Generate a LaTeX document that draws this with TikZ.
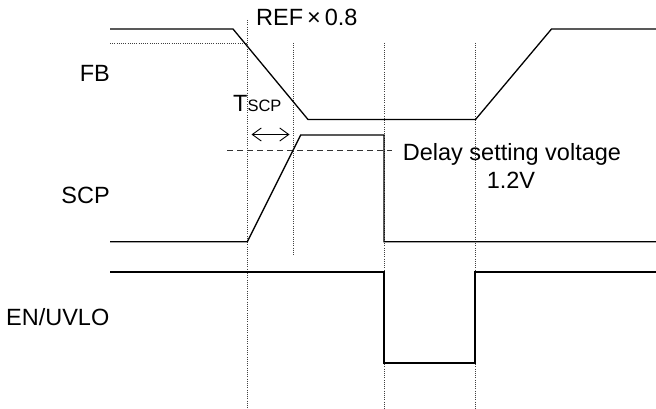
\documentclass[tikz,border=0pt]{standalone}
\usepackage{fontspec}
\setmainfont{Liberation Sans}
\usetikzlibrary{arrows.meta}
\begin{document}
\begin{tikzpicture}[x=1pt,y=-1pt,
  wave/.style={line width=1.3pt,line join=miter},
  guide/.style={line width=0.8pt,dash pattern=on 1pt off 1.2pt,black!75},
  thresh/.style={line width=0.9pt,dash pattern=on 6pt off 4pt,black!80},
  lbl/.style={inner sep=0pt,font=\fontsize{23.5}{26}\selectfont},
  dimarrow/.style={line width=0.9pt,{Straight Barb[length=9pt,width=13pt]}-{Straight Barb[length=9pt,width=13pt]}}]
\useasboundingbox (0,0) rectangle (656,409);
% guide lines
\coordinate (g1t) at (247,20);  \coordinate (g1b) at (247,409);
\coordinate (g2t) at (293,43);  \coordinate (g2b) at (293,255);
\coordinate (g3t) at (384,43);  \coordinate (g3b) at (384,409);
\coordinate (g4t) at (475,43);  \coordinate (g4b) at (475,409);
\coordinate (refl) at (110,43);  \coordinate (refr) at (247,43);
\draw[guide] (g1t) -- (g1b);
\draw[guide] (g2t) -- (g2b);
\draw[guide] (g3t) -- (g3b);
\draw[guide] (g4t) -- (g4b);
\draw[guide] (refl) -- (refr);
% threshold
\coordinate (thl) at (227,150); \coordinate (thr) at (392,150);
\draw[thresh] (thl) -- (thr);
% FB
\draw[wave] (110,29) -- (233,29) -- (308,119.5) -- (475.5,119.5) -- (551.5,29) -- (656,29);
% SCP
\draw[wave] (110,241.7) -- (247.3,241.7) -- (300.7,135) -- (384,135) -- (384,241.7) -- (656,241.7);
% EN/UVLO
\draw[wave] (110,272) -- (384,272) -- (384,363) -- (475,363) -- (475,272) -- (656,272);
% arrow
\coordinate (al) at (251.5,134.5); \coordinate (ar) at (289.5,134.5);
\draw[dimarrow] (al) -- (ar);
% labels
\node[lbl,anchor=base east] (fb) at (110,81.7) {FB};
\node[lbl,anchor=base east] (scp) at (110,203.3) {SCP};
\node[lbl,anchor=base east] (en) at (109.5,325) {EN/UVLO};
\node[lbl,anchor=base west] (ref) at (256,25.7) {REF\,×\,0.8};
\node[lbl,anchor=base west] (tscp) at (233,111.7) {T\fontsize{16.5}{18}\selectfont SCP};
\node[lbl,anchor=base west] (delay) at (402.7,160.7) {Delay setting voltage};
\node[lbl,anchor=base] (v) at (511,188.3) {1.2V};
\end{tikzpicture}
\end{document}
